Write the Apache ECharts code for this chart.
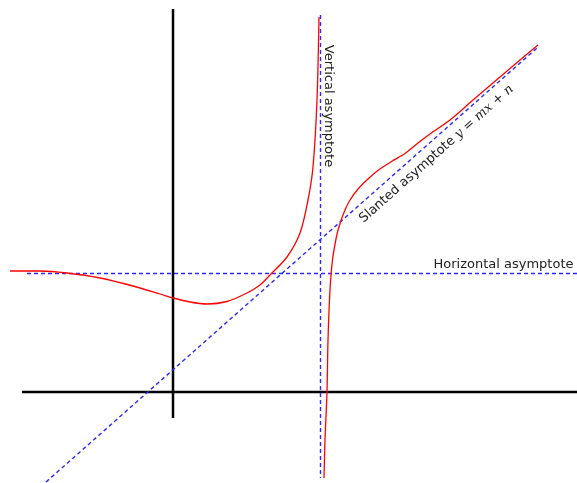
<!DOCTYPE html>
<html>
<head>
<meta charset="utf-8">
<script src="https://cdn.jsdelivr.net/npm/echarts@6/dist/echarts.min.js"></script>
<style>
  html, body { margin: 0; padding: 0; background: #fff; }
  #main { width: 577px; height: 483px; }
</style>
</head>
<body>
<div id="main"></div>
<script>
// curve, left branch (before the pole) and right branch
const leftBranch = [
  [-3.26, 2.42], [-2.66, 2.42], [-2.12, 2.38], [-1.46, 2.28], [-0.80, 2.12],
  [-0.26, 1.96], [0, 1.88], [0.34, 1.80], [0.68, 1.76], [1.08, 1.81],
  [1.48, 1.98], [1.74, 2.14], [1.94, 2.34], [2.28, 2.70], [2.54, 3.18],
  [2.70, 3.84], [2.80, 4.50], [2.88, 5.84], [2.92, 7.50]
]
const rightBranch = [
  [3.02, -1.72], [3.04, -0.96], [3.08, 0], [3.10, 1.04], [3.14, 2.04],
  [3.19, 2.64], [3.27, 3.11], [3.34, 3.37], [3.44, 3.64], [3.54, 3.84],
  [3.71, 4.07], [3.91, 4.27], [4.11, 4.44], [4.37, 4.61], [4.64, 4.77],
  [4.94, 5.01], [5.14, 5.16], [5.54, 5.44], [6.00, 5.84], [6.54, 6.30],
  [6.94, 6.64], [7.30, 6.94]
]
// asymptotes and coordinate axes
const horizontalAsym = [[-2.92, 2.37], [8.08, 2.37]]
const verticalAsym = [[2.95, 7.54], [2.95, -1.72]]
const slantedAsym = [[-2.54, -1.80], [7.28, 6.88]]
const xAxisLine = [[-3.02, 0], [8.08, 0]]
const yAxisLine = [[0, -0.52], [0, 7.66]]
const labels = ['Horizontal asymptote', 'Vertical asymptote', 'Slanted asymptote ']

const chart = echarts.init(document.getElementById('main'))

const dashed = {
  color: '#2a2aff',
  width: 1.4,
  type: [4, 3],
}
const textFont = {
  fontFamily: 'DejaVu Sans',
  fontSize: 13,
  color: '#222',
}

function lineSeries(data, lineStyle, z, extra) {
  return Object.assign({
    type: 'line',
    data: data,
    showSymbol: false,
    silent: true,
    animation: false,
    z: z,
    lineStyle: lineStyle,
  }, extra || {})
}

const option = {
  animation: false,
  grid: { left: 0, right: 0, top: 0, bottom: 0 },
  xAxis: { type: 'value', min: -3.46, max: 8.08, show: false },
  yAxis: { type: 'value', min: -1.82, max: 7.84, show: false },
  series: [
    lineSeries(xAxisLine, { color: '#000', width: 2.5 }, 2),
    lineSeries(yAxisLine, { color: '#000', width: 2.5 }, 2),
    lineSeries(horizontalAsym, dashed, 3, {
      markPoint: {
        symbol: 'circle', symbolSize: 0,
        data: [{
          coord: [6.61, 2.55],
          label: Object.assign({ show: true, position: 'inside', formatter: labels[0] }, textFont),
        }],
      },
    }),
    lineSeries(verticalAsym, dashed, 3, {
      markPoint: {
        symbol: 'circle', symbolSize: 0,
        data: [{
          coord: [3.10, 5.72],
          label: Object.assign({ show: true, position: 'inside', rotate: -90, formatter: labels[1] }, textFont),
        }],
      },
    }),
    lineSeries(slantedAsym, dashed, 3, {
      markPoint: {
        symbol: 'circle', symbolSize: 0,
        data: [{
          coord: [5.27, 4.76],
          label: Object.assign({
            show: true, position: 'inside', rotate: 41.5,
            formatter: '{t|' + labels[2] + '}{i|y}{t| = }{i|mx}{t| + }{i|n}',
            rich: {
              t: textFont,
              i: { fontFamily: 'DejaVu Serif', fontStyle: 'italic', fontSize: 13, color: '#222' },
            },
          }, textFont),
        }],
      },
    }),
    lineSeries(leftBranch, { color: '#ff0000', width: 1.3 }, 4, { smooth: 0.3 }),
    lineSeries(rightBranch, { color: '#ff0000', width: 1.3 }, 4, { smooth: 0.3 }),
  ],
}

chart.setOption(option)
</script>
</body>
</html>
